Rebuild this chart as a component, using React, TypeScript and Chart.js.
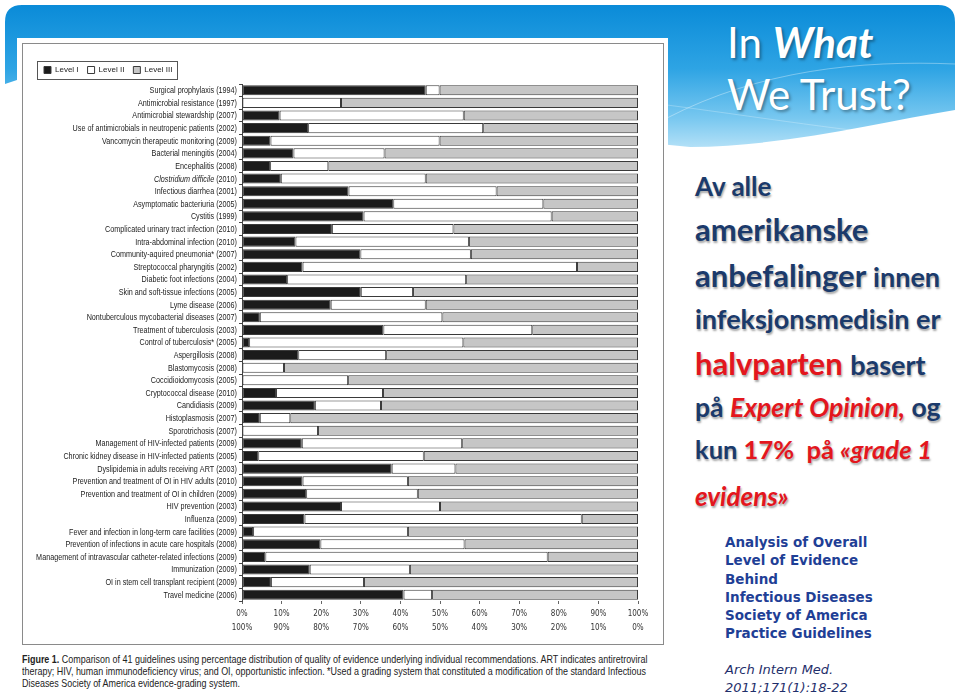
import React, { useEffect, useRef } from "react";
import { Chart, registerables } from "chart.js";

Chart.register(...registerables);

const categories = [
  "Surgical prophylaxis (1994)",
  "Antimicrobial resistance (1997)",
  "Antimicrobial stewardship (2007)",
  "Use of antimicrobials in neutropenic patients (2002)",
  "Vancomycin therapeutic monitoring (2009)",
  "Bacterial meningitis (2004)",
  "Encephalitis (2008)",
  "Clostridium difficile (2010)",
  "Infectious diarrhea (2001)",
  "Asymptomatic bacteriuria (2005)",
  "Cystitis (1999)",
  "Complicated urinary tract infection (2010)",
  "Intra-abdominal infection (2010)",
  "Community-aquired pneumonia* (2007)",
  "Streptococcal pharyngitis (2002)",
  "Diabetic foot infections (2004)",
  "Skin and soft-tissue infections (2005)",
  "Lyme disease (2006)",
  "Nontuberculous mycobacterial diseases (2007)",
  "Treatment of tuberculosis (2003)",
  "Control of tuberculosis* (2005)",
  "Aspergillosis (2008)",
  "Blastomycosis (2008)",
  "Coccidioidomycosis (2005)",
  "Cryptococcal disease (2010)",
  "Candidiasis (2009)",
  "Histoplasmosis (2007)",
  "Sporotrichosis (2007)",
  "Management of HIV-infected patients (2009)",
  "Chronic kidney disease in HIV-infected patients (2005)",
  "Dyslipidemia in adults receiving ART (2003)",
  "Prevention and treatment of OI in HIV adults (2010)",
  "Prevention and treatment of OI in children (2009)",
  "HIV prevention (2003)",
  "Influenza (2009)",
  "Fever and infection in long-term care facilities (2009)",
  "Prevention of infections in acute care hospitals (2008)",
  "Management of intravascular catheter-related infections (2009)",
  "Immunization (2009)",
  "OI in stem cell transplant recipient (2009)",
  "Travel medicine (2006)",
];

const italicPrefix = "Clostridium difficile";

const levelI = [
  46.4, 0, 9.5, 16.7, 7.2, 13, 7.1, 9.8, 26.9, 38.2,
  30.7, 22.7, 13.5, 29.9, 15.3, 11.4, 30, 22.4, 4.5, 35.7,
  1.8, 14.2, 0, 0, 8.6, 18.4, 4.5, 0, 15.1, 4.1,
  37.8, 15.3, 16.2, 25, 15.8, 2.8, 19.8, 5.9, 17.1, 7.3,
  40.8,
];

const levelII = [
  3.5, 25, 46.5, 44.2, 42.7, 23, 14.7, 36.6, 37.4, 37.9,
  47.5, 30.7, 43.8, 27.9, 69.3, 45.2, 13.2, 24, 46.1, 37.6,
  54.1, 22.2, 10.6, 26.8, 27, 16.7, 7.7, 19.2, 40.5, 41.8,
  16.1, 26.6, 28.2, 25, 70, 39.1, 36.4, 71.3, 25.3, 23.5,
  7.2,
];

const levelIII = [
  50.1, 75, 44, 39.1, 50.1, 64, 78.2, 53.6, 35.7, 23.9,
  21.8, 46.6, 42.7, 42.2, 15.4, 43.4, 56.8, 53.6, 49.4, 26.7,
  44.1, 63.6, 89.4, 73.2, 64.4, 64.9, 87.8, 80.8, 44.4, 54.1,
  46.1, 58.1, 55.6, 50, 14.2, 58.1, 43.8, 22.8, 57.6, 69.2,
  52,
];

const seriesNames = ["Level I", "Level II", "Level III"];
const xTickValues = [0, 10, 20, 30, 40, 50, 60, 70, 80, 90, 100];
const xTickLabelsTop = ["0%", "10%", "20%", "30%", "40%", "50%", "60%", "70%", "80%", "90%", "100%"];
const xTickLabelsBottom = ["100%", "90%", "80%", "70%", "60%", "50%", "40%", "30%", "20%", "10%", "0%"];

const SANS = "'Liberation Sans', Arial, sans-serif";
const CONDENSE = 0.82;

const legendBoxPlugin = {
  id: "legendBoxFrame",
  afterDraw(chart: any) {
    const lg = chart.legend;
    const hb = lg && lg.legendHitBoxes;
    if (!hb || !hb.length) return;
    const ctx = chart.ctx;
    const first = hb[0];
    const last = hb[hb.length - 1];
    const left = first.left - 7;
    const right = last.left + last.width + 5;
    const top = first.top - 5;
    const bottom = first.top + first.height + 5;
    ctx.save();
    ctx.strokeStyle = "#555";
    ctx.lineWidth = 1;
    ctx.strokeRect(Math.round(left) + 0.5, Math.round(top) + 0.5, Math.round(right - left), Math.round(bottom - top));
    ctx.restore();
  },
};

// Draws the category labels of the y scale in a condensed face (like the printed figure)
const yLabelPlugin = {
  id: "condensedYLabels",
  afterDraw(chart: any) {
    const yScale = chart.scales.y;
    const ctx = chart.ctx;
    const xRight = yScale.right - 3 - 2;
    const normalFont = `8.8px ${SANS}`;
    const italicFont = `italic 8.8px ${SANS}`;
    ctx.save();
    ctx.fillStyle = "#222";
    ctx.textBaseline = "middle";
    ctx.textAlign = "right";
    (chart.data.labels as string[]).forEach((label: string, i: number) => {
      const py = yScale.getPixelForValue(i);
      ctx.save();
      ctx.translate(xRight, py + 0.5);
      ctx.scale(CONDENSE, 1);
      if (label.startsWith(italicPrefix)) {
        const rest = label.slice(italicPrefix.length);
        ctx.font = normalFont;
        ctx.fillText(rest, 0, 0);
        const w = ctx.measureText(rest).width;
        ctx.font = italicFont;
        ctx.fillText(italicPrefix, -w, 0);
      } else {
        ctx.font = normalFont;
        ctx.fillText(label, 0, 0);
      }
      ctx.restore();
    });
    ctx.restore();
  },
};

function FigureChart() {
  const ref = useRef<HTMLCanvasElement | null>(null);
  useEffect(() => {
    if (!ref.current) return;
    const common = {
      borderColor: "#3a3a3a",
      borderWidth: 1,
      borderSkipped: false,
      barPercentage: 0.8,
      categoryPercentage: 1,
    };
    const chart = new Chart(ref.current, {
      type: "bar",
      data: {
        labels: categories,
        datasets: [
          { label: seriesNames[0], data: levelI, backgroundColor: "#1b1b1b", ...common },
          { label: seriesNames[1], data: levelII, backgroundColor: "#ffffff", ...common },
          { label: seriesNames[2], data: levelIII, backgroundColor: "#c6c6c6", ...common },
        ],
      },
      options: {
        indexAxis: "y",
        animation: false,
        responsive: false,
        devicePixelRatio: 1,
        layout: { padding: { left: 13, right: 27, top: 14, bottom: 8 } },
        plugins: {
          legend: {
            position: "top",
            align: "start",
            labels: {
              boxWidth: 7,
              boxHeight: 7,
              padding: 9,
              color: "#222",
              font: { family: SANS, size: 8 },
            },
          },
          tooltip: { enabled: false },
        },
        scales: {
          x: {
            stacked: true,
            min: 0,
            max: 100,
            afterBuildTicks: (scale: any) => {
              scale.ticks = xTickValues.map((v) => ({ value: v }));
            },
            border: { display: false },
            grid: { drawOnChartArea: false, drawTicks: true, tickLength: 3, color: "#666" },
            ticks: {
              autoSkip: false,
              maxRotation: 0,
              padding: 3,
              color: "#333",
              font: { family: "'DejaVu Sans Condensed', sans-serif", size: 8, lineHeight: "14px" },
              callback: (v: any) => {
                const i = xTickValues.indexOf(Number(v));
                return i >= 0 ? [xTickLabelsTop[i], xTickLabelsBottom[i]] : "";
              },
            },
          },
          y: {
            stacked: true,
            afterFit: (scale: any) => {
              scale.width = 207;
            },
            border: { display: true, color: "#444", width: 1 },
            grid: { drawOnChartArea: false, drawTicks: true, tickLength: 3, color: "#444" },
            ticks: {
              display: false,
              autoSkip: false,
            },
          },
        },
      },
      plugins: [legendBoxPlugin, yLabelPlugin],
    } as any);
    return () => chart.destroy();
  }, []);
  return <canvas ref={ref} width={643} height={603} style={{ position: "absolute", left: 22, top: 43, width: 643, height: 603 }} />;
}

const BLUE = "#1b3a6b";
const RED = "#e3161d";
const bigShadow = "1px 2px 2px rgba(0,0,0,0.35)";

function Line({ top, left, size, children }: { top: number; left: number; size: number; children: React.ReactNode }) {
  return (
    <div
      style={{
        position: "absolute",
        left,
        top,
        fontFamily: "Lato, 'Open Sans', sans-serif",
        fontWeight: 700,
        fontSize: size,
        lineHeight: 1,
        color: BLUE,
        whiteSpace: "nowrap",
        textShadow: bigShadow,
      }}
    >
      {children}
    </div>
  );
}

const CAPTION_SCALE = 0.8;

export default function App() {
  return (
    <div style={{ position: "fixed", left: 0, top: 0, width: 960, height: 699, background: "#ffffff", overflow: "hidden" }}>
      <svg width={960} height={699} style={{ position: "absolute", left: 0, top: 0 }}>
        <defs>
          <linearGradient id="band" x1="0" y1="0" x2="0" y2="1">
            <stop offset="0" stopColor="#0a8bd8" />
            <stop offset="0.45" stopColor="#2ea4e4" />
            <stop offset="0.8" stopColor="#79c8f0" />
            <stop offset="1" stopColor="#b2e0f7" />
          </linearGradient>
        </defs>
        <path d="M5,22 Q5,5 22,5 H938 Q955,5 955,22 V110 C880,122 790,146 690,147 L17,80 L5,84 Z" fill="url(#band)" />
        <path d="M667,118 C760,70 860,60 955,64" stroke="rgba(255,255,255,0.35)" strokeWidth={1} fill="none" />
        <path d="M667,105 C780,120 870,135 955,140" stroke="rgba(255,255,255,0.25)" strokeWidth={1} fill="none" />
      </svg>

      <div style={{ position: "absolute", left: 17, top: 38, width: 651, height: 661, background: "#fff" }} />
      <div style={{ position: "absolute", left: 22, top: 43, width: 642, height: 602, border: "1px solid #8a8a8a", boxSizing: "border-box" }} />
      <FigureChart />
      <div
        style={{
          position: "absolute",
          left: 22,
          top: 653,
          width: 645 / CAPTION_SCALE,
          transform: `scaleX(${CAPTION_SCALE})`,
          transformOrigin: "0 0",
          fontFamily: SANS,
          fontSize: 11.2,
          lineHeight: "12px",
          color: "#222",
        }}
      >
        <b>Figure 1.</b> Comparison of 41 guidelines using percentage distribution of quality of evidence underlying individual recommendations. ART indicates antiretroviral therapy; HIV, human immunodeficiency virus; and OI, opportunistic infection. *Used a grading system that constituted a modification of the standard Infectious Diseases Society of America evidence-grading system.
      </div>

      <div
        style={{
          position: "absolute",
          left: 727,
          top: 16,
          fontFamily: "Lato, 'Open Sans', sans-serif",
          fontSize: 42,
          lineHeight: "52px",
          color: "#fff",
          textShadow: "2px 2px 3px rgba(0,0,0,0.35)",
          whiteSpace: "nowrap",
        }}
      >
        <div>
          In <b><i>What</i></b>
        </div>
        <div>We Trust?</div>
      </div>

      <Line top={173} left={695} size={26}>Av alle</Line>
      <Line top={214} left={695} size={31}>amerikanske</Line>
      <Line top={260} left={695} size={31}>
        anbefalinger <span style={{ fontSize: 27 }}>innen</span>
      </Line>
      <Line top={305} left={695} size={27}>infeksjonsmedisin er</Line>
      <Line top={348} left={695} size={31}>
        <span style={{ color: RED }}>halvparten</span> <span style={{ fontSize: 27 }}>basert</span>
      </Line>
      <Line top={394} left={695} size={26.5}>
        på <i style={{ color: RED }}>Expert Opinion,</i> og
      </Line>
      <Line top={437} left={695} size={25.5}>
        kun <span style={{ color: RED }}>17%</span>&nbsp; <span style={{ color: RED }}>på <i>«grade 1</i></span>
      </Line>
      <Line top={483} left={695} size={26}>
        <i style={{ color: RED }}>evidens»</i>
      </Line>

      <div
        style={{
          position: "absolute",
          left: 725,
          top: 533,
          fontFamily: "'DejaVu Sans', Verdana, sans-serif",
          fontWeight: 700,
          fontSize: 13.5,
          lineHeight: "18.3px",
          color: "#1f3f96",
          whiteSpace: "nowrap",
        }}
      >
        <div>Analysis of Overall</div>
        <div>Level of Evidence</div>
        <div>Behind</div>
        <div>Infectious Diseases</div>
        <div>Society of America</div>
        <div>Practice Guidelines</div>
      </div>
      <div
        style={{
          position: "absolute",
          left: 725,
          top: 661,
          fontFamily: "'DejaVu Sans', Verdana, sans-serif",
          fontStyle: "italic",
          fontSize: 13,
          lineHeight: "17.5px",
          color: "#1f2f6b",
          whiteSpace: "nowrap",
        }}
      >
        <div>Arch Intern Med.</div>
        <div>2011;171(1):18-22</div>
      </div>
    </div>
  );
}
